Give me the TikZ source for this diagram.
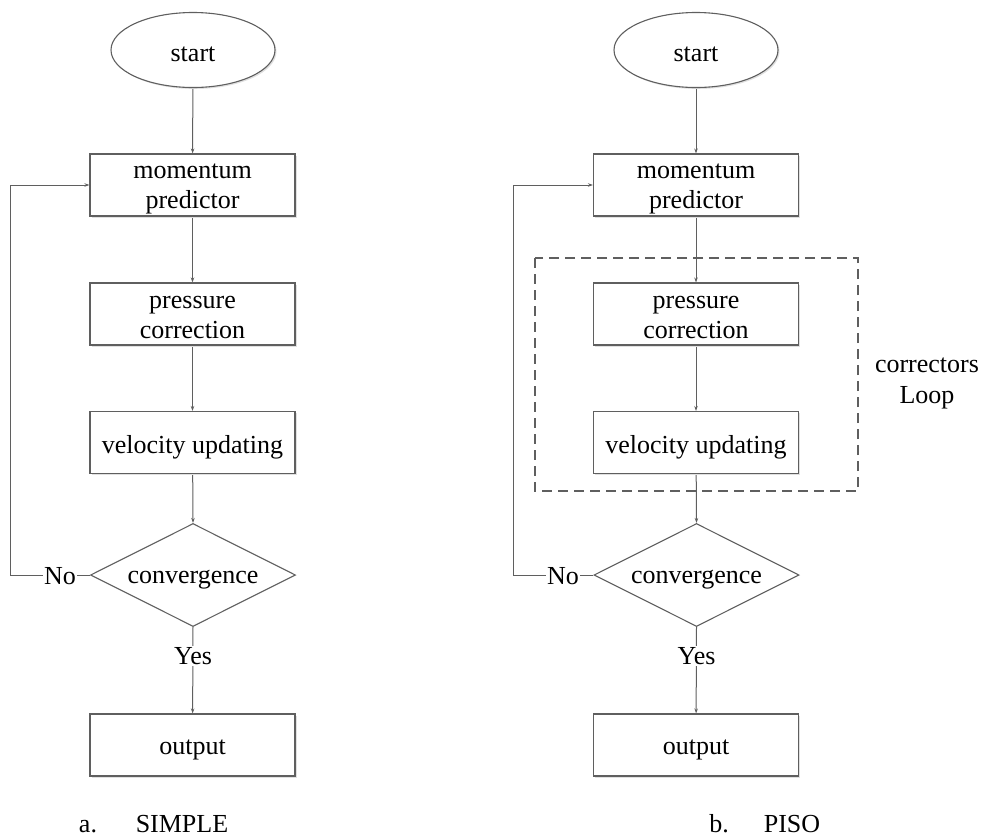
\documentclass[tikz,border=0pt]{standalone}
\usepackage{fontspec}
\setmainfont{Liberation Serif}
\usetikzlibrary{shapes.geometric,arrows.meta,backgrounds,shadows}
\definecolor{ln}{RGB}{95,95,95}
\begin{document}
\begin{tikzpicture}[x=1pt,y=-1pt,
  font=\fontsize{26}{30}\selectfont,
  every node/.style={text=black},
  every label/.style={align=center,inner sep=0pt,yshift=-4.5pt},
  shd/.style={drop shadow={shadow xshift=1.5pt,shadow yshift=-1.5pt,fill=black!12,opacity=1}},
  procbox/.style={draw=ln,line width=1.1pt,fill=white,shd,minimum width=205pt,minimum height=62pt,inner sep=0pt},
  startell/.style={draw=ln,line width=1.1pt,fill=white,shd,ellipse,minimum width=164pt,minimum height=75pt,inner sep=0pt},
  decis/.style={draw=ln,line width=1.1pt,fill=white,diamond,minimum width=205pt,minimum height=103pt,inner sep=0pt},
  lbl/.style={fill=white,inner sep=1pt},
  capt/.style={anchor=base,inner sep=0pt},
  conn/.style={draw=ln,line width=1pt,-{Stealth[length=5pt,width=3.5pt]}},
  loopbox/.style={draw=ln,line width=1.1pt,dash pattern=on 10pt off 6pt}
]
\useasboundingbox (0,0) rectangle (986,838);

% ---------- left: SIMPLE ----------
\node[startell, label={center:start}] (s1) at (193,50) {};
\node[procbox, label={[yshift=1pt]center:{momentum\\predictor}}] (m1) at (192.5,185) {};
\node[procbox, label={[yshift=1pt]center:{pressure\\correction}}] (p1) at (192.5,314) {};
\node[procbox, label={center:velocity updating}] (v1) at (192.5,442.5) {};
\node[decis, label={center:convergence}] (d1) at (193,575) {};
\node[lbl] (y1) at (193,656) {Yes};
\node[lbl] (n1) at (60,576) {No};
\node[procbox, label={center:output}] (o1) at (192.5,745) {};
\coordinate (c1) at (10,575);
\node[capt] (a1) at (88,832) {a.};
\node[capt] (t1) at (182,832) {SIMPLE};

% ---------- right: PISO ----------
\node[startell, label={center:start}] (s2) at (696,50) {};
\node[procbox, label={[yshift=1pt]center:{momentum\\predictor}}] (m2) at (696,185) {};
\node[procbox, label={[yshift=1pt]center:{pressure\\correction}}] (p2) at (696,314) {};
\node[procbox, label={center:velocity updating}] (v2) at (696,442.5) {};
\node[decis, label={center:convergence}] (d2) at (696.5,575) {};
\node[lbl] (y2) at (696.5,656) {Yes};
\node[lbl] (n2) at (563,576) {No};
\node[procbox, label={center:output}] (o2) at (696,745) {};
\coordinate (c2) at (513,575);
\node[align=center,font=\fontsize{26}{31}\selectfont] (cl) at (927,383) {correctors\\Loop};
\node[capt] (a2) at (719,832) {b.};
\node[capt] (t2) at (792,832) {PISO};
\coordinate (lbA) at (535,258);
\coordinate (lbB) at (858,491);

\begin{pgfonlayer}{background}
  % left connectors
  \path[conn] (s1) -- (m1);
  \path[conn] (m1) -- (p1);
  \path[conn] (p1) -- (v1);
  \path[conn] (v1) -- (d1.north);
  \path[conn] (d1.south) -- (o1);
  \path[conn] (d1.west) -- (c1) |- (m1.west);
  % right connectors
  \path[loopbox] (lbA) rectangle (lbB);
  \path[conn] (s2) -- (m2);
  \path[conn] (m2) -- (p2);
  \path[conn] (p2) -- (v2);
  \path[conn] (v2) -- (d2.north);
  \path[conn] (d2.south) -- (o2);
  \path[conn] (d2.west) -- (c2) |- (m2.west);
\end{pgfonlayer}
\end{tikzpicture}
\end{document}
